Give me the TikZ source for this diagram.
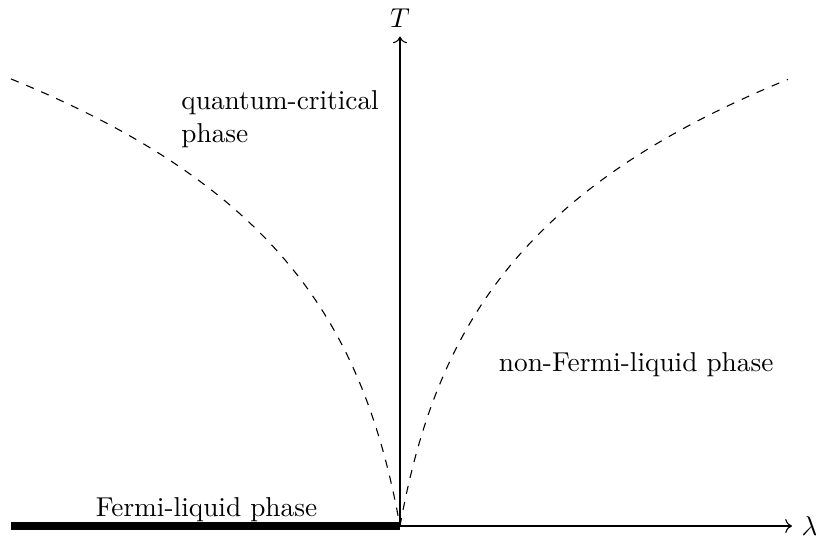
\documentclass[tikz,border=0pt]{standalone}
\usetikzlibrary{arrows.meta, positioning}
\tikzset{
  % Axes and phase boundaries
  axis/.style={->, thin},
  crossover/.style={dashed, thin},
  flbar/.style={line width=3pt},
  phaselabel/.style={inner sep=0pt, font=\normalsize},
}

\begin{document}
\begin{tikzpicture}
    \useasboundingbox (-5.148,-0.154) rectangle (5.354,6.770);

    % Quantum critical point and axis ends
    \coordinate (qcp) at (0,0);
    \coordinate (tend) at (0,6.30);
    \coordinate (lend) at (5.045,0);
    \coordinate (flend) at (-5.006,0);

    % Fermi-liquid line at T = 0
    \draw[flbar] (flend) -- (qcp);

    % Crossover lines
    \draw[crossover] plot[domain=-5.006:0, samples=120] (\x, {2.202*ln(1-2.525*\x)});
    \draw[crossover] plot[domain=0:4.994, samples=120] (\x, {2.202*ln(1+2.525*\x)});

    % Axes
    \draw[axis] (qcp) -- (tend);
    \draw[axis] (qcp) -- (lend);
    \node (tlabel) at (0,6.54) {$T$};
    \node[right=0pt of lend] (llabel) {$\lambda$};

    % Phases
    \node[phaselabel, align=left, anchor=north west] (qc) at (-2.82,5.61) {quantum-critical\\phase};
    \node[phaselabel, anchor=base] (nfl) at (3.04,1.99) {non-Fermi-liquid phase};
    \node[phaselabel, anchor=base] (fl) at (-2.49,0.12) {Fermi-liquid phase};
\end{tikzpicture}
\end{document}
